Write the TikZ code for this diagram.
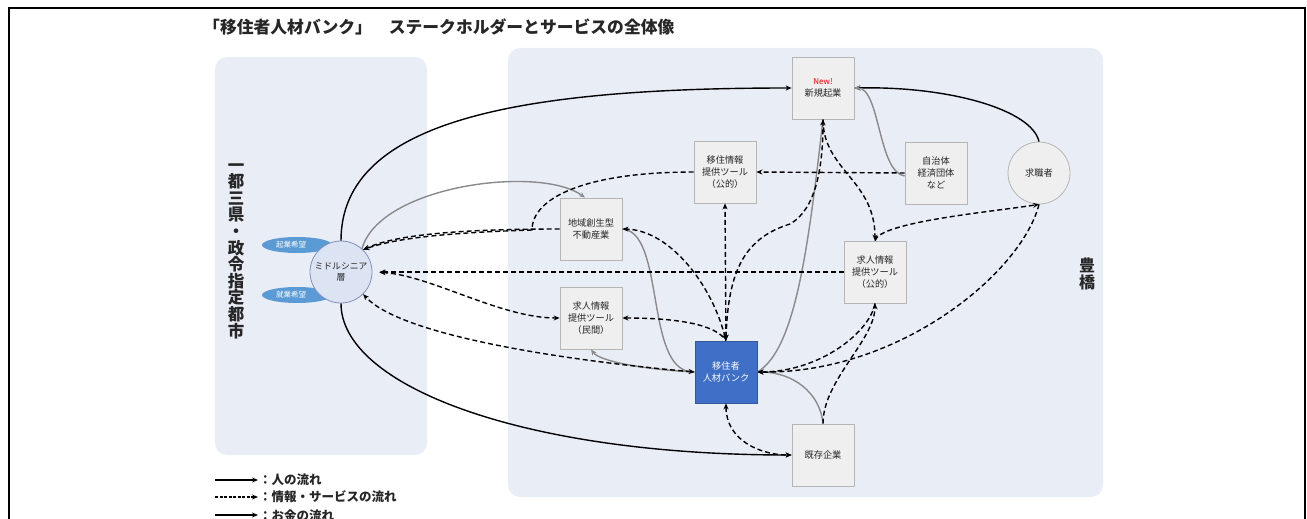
\documentclass[tikz,border=0pt]{standalone}
\usepackage{fontspec}
\setmainfont{Noto Sans CJK JP}
\usetikzlibrary{arrows.meta,shapes.geometric}
\definecolor{panel}{HTML}{E9EDF6}
\definecolor{boxfill}{HTML}{EFEFEF}
\definecolor{boxline}{HTML}{B5B5B5}
\definecolor{bankblue}{HTML}{3F6FC6}
\definecolor{ellblue}{HTML}{5B9BD5}
\definecolor{circfill}{HTML}{DCE3F2}
\definecolor{circline}{HTML}{8090B8}
\definecolor{moneygray}{HTML}{8A8A8A}
\begin{document}
\begin{tikzpicture}[x=1pt,y=-1pt,
  >={Stealth[length=6pt,width=5pt]},
  box/.style={draw=boxline, line width=0.8pt, fill=boxfill, minimum width=62pt, minimum height=62pt, inner sep=1pt, align=center, font=\fontsize{9.2}{12}\selectfont, text=black!85},
  ppl/.style={draw=black, line width=1.4pt},
  inf/.style={draw=black, line width=1.4pt, dash pattern=on 5pt off 3pt},
  mny/.style={draw=moneygray, line width=1.4pt},
  vtext/.style={font=\fontsize{16.5}{16.6}\selectfont\bfseries, align=center, inner sep=0pt, text=black!85},
  lbl/.style={font=\fontsize{12.5}{14}\selectfont\bfseries, anchor=west, inner sep=0pt, text=black!85}
]
\useasboundingbox (0,0) rectangle (1307,519);
% outer frame
\draw[line width=2.2pt] (9,530) -- (9,8) -- (1305,8) -- (1305,530);
% title
\node[anchor=west, inner sep=0pt, font=\fontsize{16.8}{19}\selectfont\bfseries, text=black!85] (title) at (203,27) {「移住者人材バンク」\hspace{1em}ステークホルダーとサービスの全体像};
% panels
\fill[panel, rounded corners=12pt] (215,57) rectangle (427,455);
\fill[panel, rounded corners=12pt] (508,48) rectangle (1103,497);
\node[vtext] (region) at (236,251) {一\\都\\三\\県\\・\\政\\令\\指\\定\\都\\市};
\node[vtext, font=\fontsize{16}{17}\selectfont\bfseries] (toyo) at (1087,274) {豊\\橋};
% left nodes
\node[ellipse, fill=ellblue, minimum width=70pt, minimum height=16pt, inner sep=0pt, text=white, font=\fontsize{7.5}{8}\selectfont] (kigyo) at (297,245) {\hspace*{-12pt}起業希望};
\node[ellipse, fill=ellblue, minimum width=70pt, minimum height=16pt, inner sep=0pt, text=white, font=\fontsize{7.5}{8}\selectfont] (shugyo) at (297,295) {\hspace*{-12pt}就業希望};
\node[circle, draw=circline, line width=0.8pt, fill=circfill, minimum size=62pt, inner sep=0pt, align=center, font=\fontsize{8.8}{11}\selectfont, text=black!85] (sen) at (341,272) {ミドルシニア\\層};
% right nodes
\node[box] (shinki) at (823,88) {{\color{red}\itshape\fontsize{8}{9}\selectfont New!}\\新規起業};
\node[box] (jichi) at (936,173) {自治体\\経済団体\\など};
\node[circle, draw=boxline, line width=0.8pt, fill=boxfill, minimum size=62pt, inner sep=0pt, font=\fontsize{9.2}{12}\selectfont, text=black!85] (kyushoku) at (1039,173) {求職者};
\node[box] (kkoteki) at (875,272) {求人情報\\提供ツール\\（公的）};
\node[box] (ijuinfo) at (725,172) {移住情報\\提供ツール\\（公的）};
\node[box] (chiiki) at (591,229) {地域創生型\\不動産業};
\node[box] (kminkan) at (591,318) {求人情報\\提供ツール\\（民間）};
\node[box, fill=bankblue, draw=bankblue!80!black, text=white] (bank) at (726,372) {移住者\\人材バンク};
\node[box] (kizon) at (823,455) {既存企業};
% people flows
\draw[ppl,->] (sen.north) .. controls (341,120) and (520,88) .. (shinki.west);
\draw[ppl,->] (kyushoku.north) .. controls (1032,110) and (950,86) .. (shinki.east);
\draw[ppl,->] (sen.south) .. controls (341,385) and (520,455) .. (kizon.west);
% money flows
\draw[mny,->] (sen.48) .. controls (380,185) and (540,165) .. ([xshift=-6pt]chiiki.north);
\draw[mny,->] (chiiki.east) .. controls (665,232) and (645,368) .. (bank.west);
\draw[mny,->] (bank.west) .. controls (650,370) and (600,362) .. (kminkan.south);
\draw[mny,->] ([yshift=-3pt]jichi.west) .. controls (878,172) and (880,88) .. (shinki.east);
\draw[mny,->] (kizon.north) .. controls (820,392) and (792,372) .. (bank.east);
\draw[mny,->] (bank.east) .. controls (795,350) and (808,250) .. (shinki.south);
% info flows
\draw[inf,->] (chiiki.west) .. controls (450,229) and (392,236) .. (sen.45);
\draw[inf,->] (ijuinfo.west) .. controls (585,172) and (532,198) .. (532,230) .. controls (470,232) and (400,236) .. (sen.45);
\draw[inf,->,shorten >=7pt] (kkoteki.west) -- (sen.east);
\draw[inf,<->,shorten <=7pt] (sen.east) .. controls (430,275) and (500,318) .. (kminkan.west);
\draw[inf,<->] (bank.west) .. controls (560,360) and (400,335) .. (sen.-45);
\draw[inf,<->] (bank.north) -- (ijuinfo.south);
\draw[inf,<->] (bank.north) .. controls (712,285) and (670,230) .. (chiiki.east);
\draw[inf,<-] (kminkan.east) .. controls (680,318) and (716,325) .. (bank.north);
\draw[inf,<->] (bank.north) .. controls (728,270) and (745,238) .. (790,224) .. controls (815,210) and (823,170) .. (shinki.south);
\draw[inf,->] (shinki.south) .. controls (823,170) and (875,180) .. (kkoteki.north);
\draw[inf,->] (jichi.west) -- (ijuinfo.east);
\draw[inf,->] (kkoteki.north) .. controls (880,222) and (990,212) .. (kyushoku.south);
\draw[inf,->] (kyushoku.south) .. controls (1022,272) and (900,374) .. (bank.east);
\draw[inf,->] (kkoteki.south) .. controls (870,332) and (820,372) .. (bank.east);
\draw[inf,->] (kizon.north) .. controls (823,380) and (875,340) .. (kkoteki.south);
\draw[inf,<->] (bank.south) .. controls (726,440) and (760,455) .. (kizon.west);
% legend
\coordinate (l1a) at (215,480); \coordinate (l1b) at (258,480);
\coordinate (l2a) at (215,497); \coordinate (l2b) at (258,497);
\coordinate (l3a) at (215,515); \coordinate (l3b) at (258,515);
\draw[line width=1.2pt,->] (l1a) -- (l1b);
\draw[line width=1.2pt,dash pattern=on 3pt off 1.5pt,->] (l2a) -- (l2b);
\draw[line width=1.2pt,->] (l3a) -- (l3b);
\node[lbl] (t1) at (259,480) {：人の流れ};
\node[lbl] (t2) at (259,497) {：情報・サービスの流れ};
\node[lbl] (t3) at (259,516) {：お金の流れ};
\end{tikzpicture}
\end{document}
